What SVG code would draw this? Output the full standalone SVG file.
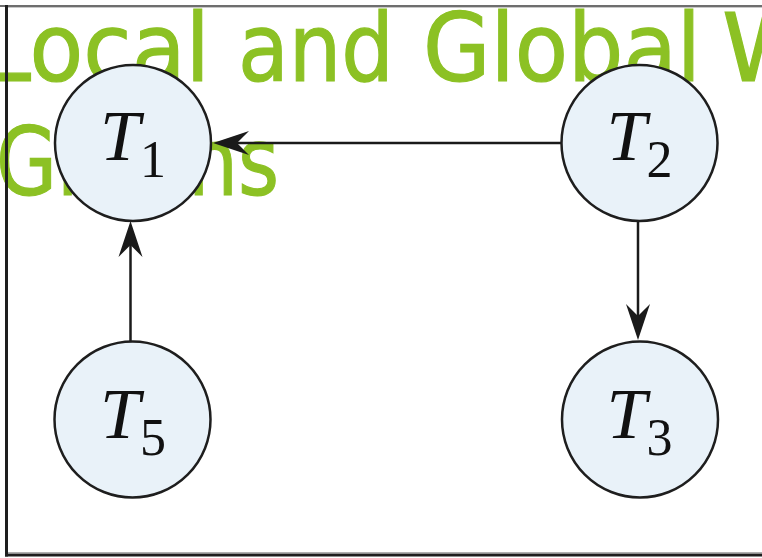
<svg xmlns="http://www.w3.org/2000/svg" width="762" height="558" viewBox="0 0 762 558">
  <style>
    .title { font-family: "DejaVu Sans", "Liberation Sans", sans-serif; font-size: 95px; fill: #8cc124; stroke: #8cc124; stroke-width: 1.2; }
    .node circle { fill: #e9f2f9; stroke: #1e1e1e; stroke-width: 2.5; }
    .tm { font-family: "Liberation Serif", "DejaVu Serif", serif; font-style: italic; font-size: 72px; fill: #111; }
    .sub { font-family: "Liberation Serif", "DejaVu Serif", serif; font-size: 52px; fill: #111; }
    .edge { stroke: #1a1a1a; stroke-width: 2.5; fill: none; marker-end: url(#arrow); }
  </style>
  <defs>
    <marker id="arrow" markerUnits="userSpaceOnUse" viewBox="-20 -15 45 30" refX="0" refY="0" markerWidth="45" markerHeight="30" orient="auto">
      <path d="M20,0 L-16,-12 Q-8,-4 -4,0 Q-8,4 -16,12 Z" fill="#1a1a1a"/>
    </marker>
  </defs>

  <rect x="0" y="0" width="762" height="558" fill="#ffffff"/>

  <g id="title">
    <text class="title" y="81">
      <tspan x="-18" textLength="228" lengthAdjust="spacingAndGlyphs">Local</tspan>
      <tspan x="238" textLength="156" lengthAdjust="spacingAndGlyphs">and</tspan>
      <tspan x="423" textLength="278" lengthAdjust="spacingAndGlyphs">Global</tspan>
      <tspan x="722">W</tspan>
    </text>
    <text class="title" y="195" x="-4" textLength="283" lengthAdjust="spacingAndGlyphs">Graphs</text>
  </g>

  <g id="frame">
    <line x1="0" y1="6" x2="762" y2="6" stroke="#6e6e6e" stroke-width="2"/>
    <line x1="8" y1="7.5" x2="762" y2="7.5" stroke="#c8c8c8" stroke-width="1"/>
    <line x1="8" y1="552.5" x2="762" y2="552.5" stroke="#b0b0b0" stroke-width="1"/>
    <line x1="5" y1="555" x2="762" y2="555" stroke="#1e1e1e" stroke-width="3"/>
    <line x1="6.5" y1="5" x2="6.5" y2="556.5" stroke="#1e1e1e" stroke-width="3"/>
  </g>

  <g id="connectors">
    <line class="edge" x1="561" y1="143" x2="233" y2="143"/>
    <line class="edge" x1="638" y1="221" x2="638" y2="320"/>
    <line class="edge" x1="130.5" y1="342" x2="130.5" y2="241"/>
  </g>

  <g id="T1" class="node">
    <circle cx="133" cy="143" r="78"/>
    <text class="tm" x="100" y="160">T</text>
    <text class="sub" x="140" y="177">1</text>
  </g>
  <g id="T2" class="node">
    <circle cx="639.5" cy="143" r="78"/>
    <text class="tm" x="606.5" y="160">T</text>
    <text class="sub" x="646.5" y="177">2</text>
  </g>
  <g id="T3" class="node">
    <circle cx="640" cy="419.5" r="78"/>
    <text class="tm" x="606.5" y="438">T</text>
    <text class="sub" x="646.5" y="455">3</text>
  </g>
  <g id="T5" class="node">
    <circle cx="132.5" cy="419.5" r="78"/>
    <text class="tm" x="100" y="438">T</text>
    <text class="sub" x="140" y="455">5</text>
  </g>
</svg>
